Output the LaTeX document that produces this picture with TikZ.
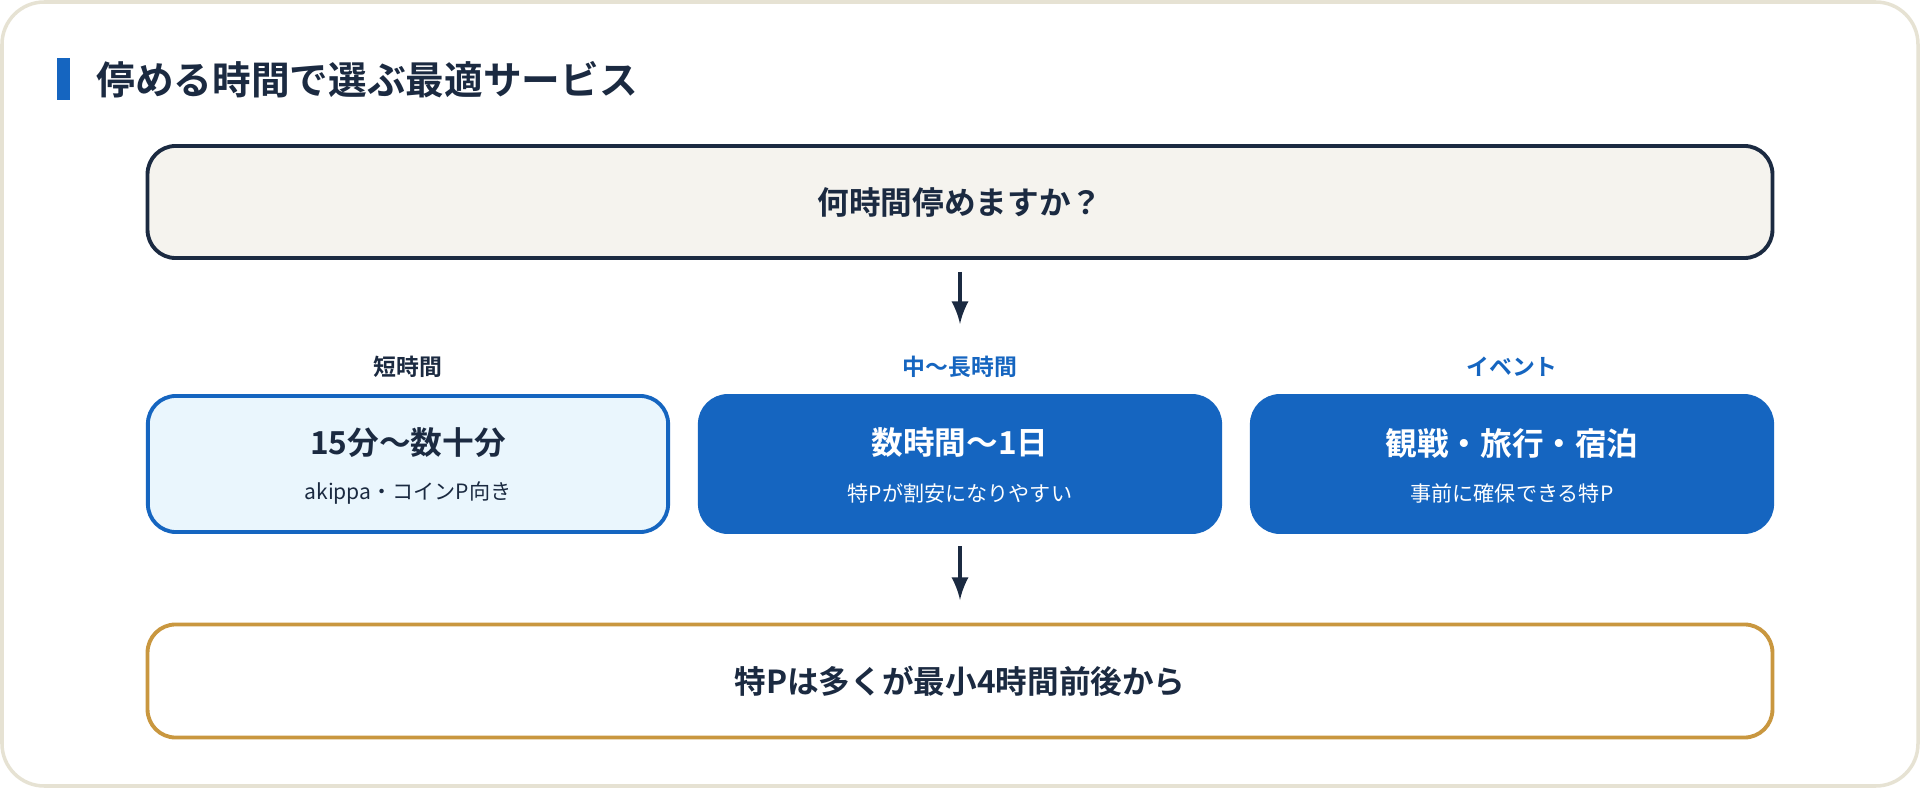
\documentclass[tikz,border=0pt]{standalone}
\usepackage{fontspec}
\setmainfont{Noto Sans CJK JP}[BoldFont={Noto Sans CJK JP Bold}]
\usetikzlibrary{positioning}
\definecolor{navy}{HTML}{1B2A41}
\definecolor{mainblue}{HTML}{1565C0}
\definecolor{paleblue}{HTML}{EAF6FD}
\definecolor{cream}{HTML}{F5F3EE}
\definecolor{gold}{HTML}{C9973F}
\definecolor{cardline}{HTML}{E6E2D3}
\tikzset{
  box/.style={rounded corners=8pt, line width=1.1pt, minimum width=5.2cm, minimum height=1.36cm, inner sep=0pt},
  widebox/.style={box, minimum width=16.24cm, minimum height=1.13cm},
  lbl/.style={font=\fontsize{6.5}{8}\selectfont\bfseries},
  head/.style={font=\fontsize{9}{11}\selectfont\bfseries},
  sub/.style={font=\fontsize{6}{8}\selectfont},
  arr/.style={-latex, line width=1.2pt, draw=navy},
}
\begin{document}
\begin{tikzpicture}[x=0.01cm, y=-0.01cm]
		% card
		\useasboundingbox (0,0) rectangle (1920,788);
		\draw[cardline, fill=white, line width=1pt, rounded corners=12pt] (2,2) rectangle (1918,786);
		
		% title
		\fill[mainblue] (57,58) rectangle (70,100);
		\node[anchor=west, text=navy, font=\fontsize{11}{13}\selectfont\bfseries] (title) at (84,80) {停める時間で選ぶ最適サービス};
		
		% question
		\node[widebox, draw=navy, fill=cream, minimum height=1.12cm, text=navy, head] (q) at (960,202) {何時間停めますか？};
		\coordinate (qa) at (960,272);
		\coordinate (qb) at (960,324);
		\draw[arr] (qa) -- (qb);
		
		% categories
		\node[lbl, text=navy] (l1) at (408,367) {短時間};
		\node[lbl, text=mainblue] (l2) at (960,367) {中〜長時間};
		\node[lbl, text=mainblue] (l3) at (1512,367) {イベント};
		
		\node[box, draw=mainblue, fill=paleblue] (b1) at (408,464) {};
		\node[head, text=navy] at (408,443) {15分〜数十分};
		\node[sub, text=navy] at (408,493) {akippa・コインP向き};
		
		\node[box, draw=mainblue, fill=mainblue] (b2) at (960,464) {};
		\node[head, text=white] at (960,443) {数時間〜1日};
		\node[sub, text=white] at (960,493) {特Pが割安になりやすい};
		
		\node[box, draw=mainblue, fill=mainblue] (b3) at (1512,464) {};
		\node[head, text=white] at (1512,443) {観戦・旅行・宿泊};
		\node[sub, text=white] at (1512,493) {事前に確保できる特P};
		
		% result
		\coordinate (ra) at (960,546);
		\coordinate (rb) at (960,600);
		\draw[arr] (ra) -- (rb);
		\node[widebox, draw=gold, fill=white, text=navy, head] (r) at (960,681) {特Pは多くが最小4時間前後から};
	\end{tikzpicture}
\end{document}
